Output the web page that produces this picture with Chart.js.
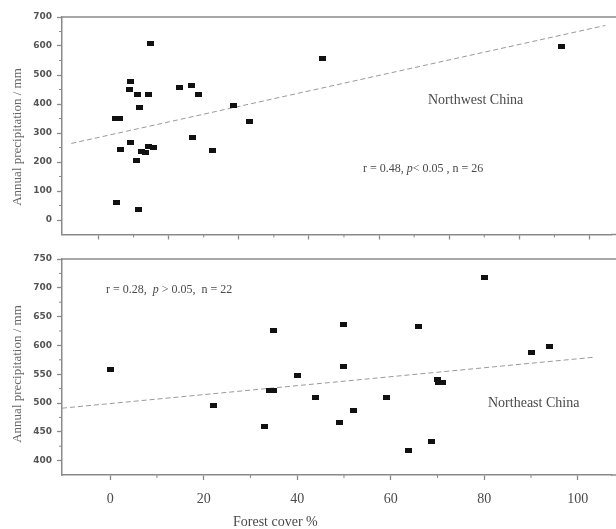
<!DOCTYPE html>
<html>
<head>
<meta charset="utf-8">
<script src="https://cdn.jsdelivr.net/npm/chart.js@4.4.0/dist/chart.umd.min.js"></script>
<style>
  body { margin: 0; background: #fff; overflow: hidden; }
  canvas { display: block; }
</style>
</head>
<body>
<canvas id="nw" width="616" height="248"></canvas>
<canvas id="ne" width="616" height="281"></canvas>
<script>
// Northwest China (forest cover %, annual precipitation mm)
var nwCover  = [1.1, 1.9, 2.3, 1.4, 4.3, 4.2, 4.3, 5.7, 5.9, 6.3, 6.1, 6.6, 7.5, 8.2, 8.2, 8.6, 9.3, 14.9, 17.3, 17.5, 18.8, 21.8, 26.3, 29.9, 45.3, 96.5];
var nwPrecip = [349, 350, 243, 60, 476, 450, 268, 204, 432, 389, 37, 236, 232, 432, 254, 607, 251, 458, 465, 284, 433, 240, 395, 339, 558, 597];
var nwFitX = [-8.3, 105.9];
var nwFitY = [264, 671];

// Northeast China
var neCover  = [0, 22, 33, 35, 34, 35, 40, 44, 50, 50, 49, 52, 59, 66, 63.7, 68.8, 69.9, 70.2, 71, 80, 90, 94];
var nePrecip = [559, 495, 459, 626, 521, 521, 547, 509, 637, 564, 467, 487, 510, 633, 417, 433, 540, 536, 535, 718, 587, 598];
var neFitX = [-10.3, 103.5];
var neFitY = [491, 579.5];

// ticks
var nwYTicks = [0, 100, 200, 300, 400, 500, 600, 700];
var nwYMinor = [50, 150, 250, 350, 450, 550, 650];
var nwXTicks = [-2.5, 12.5, 27.5, 42.5, 57.5, 72.5, 87.5, 102.5];
var nwXMinor = [5, 20, 35, 50, 65, 80, 95];
var neYTicks = [400, 450, 500, 550, 600, 650, 700, 750];
var neYMinor = [425, 475, 525, 575, 625, 675, 725];
var neXTicks = [0, 20, 40, 60, 80, 100];
var neXMinor = [10, 30, 50, 70, 90];

var axisGray = '#8a8a8a';
var textGray = '#4a4a4a';

function pairs(xs, ys) {
  return xs.map(function (x, i) { return { x: x, y: ys[i] }; });
}

var marker = document.createElement('canvas');
marker.width = 7; marker.height = 5;
var mctx = marker.getContext('2d');
mctx.fillStyle = '#111';
mctx.fillRect(0, 0, 7, 5);

function setTicks(vals) {
  return function (s) { s.ticks = vals.map(function (v) { return { value: v }; }); };
}

function drawText(ctx, parts, x, y, size) {
  var cx = x;
  parts.forEach(function (p) {
    ctx.font = (p.italic ? 'italic ' : '') + size + 'px "Liberation Serif"';
    ctx.fillText(p.t, cx, y);
    cx += ctx.measureText(p.t).width;
  });
}

function makePlugin(minorX, minorY, texts) {
  return {
    id: 'extras',
    afterDraw: function (chart) {
      var ctx = chart.ctx, a = chart.chartArea;
      ctx.save();
      ctx.strokeStyle = axisGray;
      ctx.lineWidth = 1.5;
      // frame top, and carry the bottom axis to the edge of the picture
      ctx.beginPath();
      ctx.moveTo(a.left, a.top);
      ctx.lineTo(chart.width, a.top);
      ctx.moveTo(a.right, a.bottom);
      ctx.lineTo(chart.width, a.bottom);
      ctx.stroke();
      ctx.lineWidth = 1;
      minorX.forEach(function (v) {
        var px = chart.scales.x.getPixelForValue(v);
        ctx.beginPath(); ctx.moveTo(px, a.bottom); ctx.lineTo(px, a.bottom + 3); ctx.stroke();
      });
      minorY.forEach(function (v) {
        var py = chart.scales.y.getPixelForValue(v);
        ctx.beginPath(); ctx.moveTo(a.left, py); ctx.lineTo(a.left - 3, py); ctx.stroke();
      });
      ctx.fillStyle = textGray;
      ctx.textBaseline = 'middle';
      texts.forEach(function (tx) {
        if (tx.rotate) {
          ctx.save();
          ctx.translate(tx.x, tx.y);
          ctx.rotate(-Math.PI / 2);
          ctx.textAlign = 'center';
          ctx.fillStyle = '#666';
          ctx.font = tx.size + 'px "Liberation Serif"';
          ctx.fillText(tx.parts[0].t, 0, 0);
          ctx.restore();
        } else {
          ctx.textAlign = 'left';
          drawText(ctx, tx.parts, tx.x, tx.y, tx.size);
        }
      });
      ctx.restore();
    }
  };
}

function baseOptions(o) {
  return {
    responsive: false,
    animation: false,
    devicePixelRatio: 1,
    layout: { padding: { top: o.padTop, left: 0, right: 0, bottom: 0 } },
    plugins: { legend: { display: false }, tooltip: { enabled: false } },
    scales: {
      x: {
        type: 'linear',
        min: -10.3, max: 107.1,
        afterBuildTicks: setTicks(o.xTicks),
        afterFit: function (s) { s.height = o.xHeight; },
        grid: { drawOnChartArea: false, tickLength: 5, tickColor: axisGray, tickWidth: 1.3 },
        border: { color: axisGray, width: 1.5 },
        ticks: {
          display: o.xLabels, padding: 11, color: textGray, maxRotation: 0,
          font: { family: 'Liberation Serif', size: 14 }
        }
      },
      y: {
        type: 'linear',
        min: o.yMin, max: o.yMax,
        afterBuildTicks: setTicks(o.yTicks),
        afterFit: function (s) { s.width = 62; },
        grid: { drawOnChartArea: false, tickLength: 5, tickColor: axisGray, tickWidth: 1.3 },
        border: { color: axisGray, width: 1.5 },
        ticks: {
          padding: 5, color: '#555',
          font: { family: 'DejaVu Sans', size: 9, weight: 'bold' }
        }
      }
    }
  };
}

function datasets(cover, precip, fitX, fitY) {
  return [
    {
      data: pairs(cover, precip),
      pointStyle: marker, pointRadius: 4, showLine: false
    },
    {
      data: pairs(fitX, fitY),
      showLine: true, pointRadius: 0,
      borderColor: '#9a9a9a', borderWidth: 1, borderDash: [5, 3]
    }
  ];
}

new Chart(document.getElementById('nw'), {
  type: 'scatter',
  data: { datasets: datasets(nwCover, nwPrecip, nwFitX, nwFitY) },
  options: baseOptions({
    padTop: 17, xHeight: 13.5, xLabels: false, xTicks: nwXTicks,
    yMin: -50, yMax: 700, yTicks: nwYTicks
  }),
  plugins: [makePlugin(nwXMinor, nwYMinor, [
    { rotate: true, x: 18, y: 137, size: 13, parts: [{ t: 'Annual precipitation / mm' }] },
    { x: 428, y: 100, size: 14, parts: [{ t: 'Northwest China' }] },
    { x: 363, y: 169, size: 12, parts: [{ t: 'r = 0.48, ' }, { t: 'p', italic: true }, { t: '< 0.05 , n = 26' }] }
  ])]
});

new Chart(document.getElementById('ne'), {
  type: 'scatter',
  data: { datasets: datasets(neCover, nePrecip, neFitX, neFitY) },
  options: baseOptions({
    padTop: 11, xHeight: 54, xLabels: true, xTicks: neXTicks,
    yMin: 375, yMax: 750, yTicks: neYTicks
  }),
  plugins: [makePlugin(neXMinor, neYMinor, [
    { rotate: true, x: 18, y: 126, size: 13, parts: [{ t: 'Annual precipitation / mm' }] },
    { x: 106, y: 42, size: 12, parts: [{ t: 'r = 0.28,  ' }, { t: 'p', italic: true }, { t: ' > 0.05,  n = 22' }] },
    { x: 488, y: 155, size: 14, parts: [{ t: 'Northeast China' }] },
    { x: 233, y: 274, size: 14, parts: [{ t: 'Forest cover %' }] }
  ])]
});
</script>
</body>
</html>
